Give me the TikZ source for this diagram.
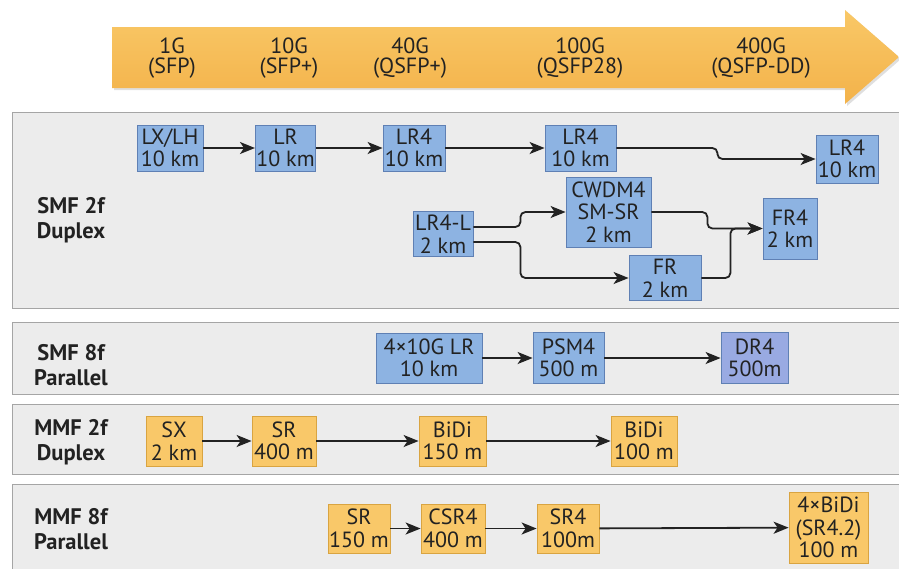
\documentclass[tikz,border=0pt]{standalone}
\usepackage{fontspec}
\setmainfont{PT Sans}
\usetikzlibrary{arrows.meta,calc,shadows}
\definecolor{boxblue}{HTML}{8DB3E2}
\definecolor{dr4fill}{HTML}{99AAE2}
\definecolor{boxblueline}{HTML}{5F80B4}
\definecolor{boxor}{HTML}{F9C869}
\definecolor{boxorline}{HTML}{D9A441}
\definecolor{panelgray}{HTML}{ECECEC}
\definecolor{panelline}{HTML}{A5A5A5}
\definecolor{arrtop}{HTML}{F9C867}
\definecolor{arrbot}{HTML}{F3B24A}
\definecolor{ink}{HTML}{222222}
\begin{document}
\begin{tikzpicture}[x=1pt,y=-1pt,
  box/.style={draw, line width=0.8pt, inner sep=1pt, align=center,
    font=\fontsize{22}{22.5}\selectfont, text=ink},
  bluebox/.style={box, fill=boxblue, draw=boxblueline},
  orbox/.style={box, fill=boxor, draw=boxorline},
  conn/.style={draw=ink, line width=1.8pt, -{Stealth[length=15pt,width=12pt,inset=4pt]}, rounded corners=5pt},
  panel/.style={fill=panelgray, draw=panelline, line width=0.8pt},
  plabel/.style={font=\bfseries\fontsize{22.5}{25}\selectfont, align=center, text=ink},
  hdr/.style={font=\fontsize{22}{20.5}\selectfont, align=center, text=ink}
]
\clip (0,0) rectangle (899,568);
\fill[white] (0,0) rectangle (899,568);

% header arrow
\path[top color=arrtop, bottom color=arrbot,
  drop shadow={opacity=0.25, shadow xshift=2pt, shadow yshift=-2pt}]
  (112,27) -- (845,27) -- (845,10) -- (899,57) -- (845,104) -- (845,88) -- (112,88) -- cycle;
\node[hdr] (h1) at (172,58) {1G\\(SFP)};
\node[hdr] (h2) at (289,58) {10G\\(SFP+)};
\node[hdr] (h3) at (410,58) {40G\\(QSFP+)};
\node[hdr] (h4) at (580,58) {100G\\(QSFP28)};
\node[hdr] (h5) at (761,58) {400G\\(QSFP-DD)};

% panels
\path[panel] (12,112) rectangle (905,308);
\path[panel] (12,322) rectangle (905,394);
\path[panel] (12,404) rectangle (905,474);
\path[panel] (12,484) rectangle (905,590);

\node[plabel] (p1) at (71,220) {SMF 2f\\Duplex};
\node[plabel] (p2) at (71,365) {SMF 8f\\Parallel};
\node[plabel] (p3) at (71,442) {MMF 2f\\Duplex};
\node[plabel] (p4) at (71,529) {MMF 8f\\Parallel};

% SMF 2f duplex
\node[bluebox, minimum width=66pt, minimum height=46pt] (lxlh) at (170,148) {LX/LH\\10 km};
\node[bluebox, minimum width=59pt, minimum height=46pt] (lr) at (285.5,148) {LR\\10 km};
\node[bluebox, minimum width=62pt, minimum height=46pt] (lr4a) at (414,148) {LR4\\10 km};
\node[bluebox, minimum width=71pt, minimum height=46pt] (lr4b) at (580.5,148) {LR4\\10 km};
\node[bluebox, minimum width=62pt, minimum height=48pt] (lr4c) at (847,159) {LR4\\10 km};
\node[bluebox, minimum width=60pt, minimum height=45pt] (lr4l) at (443,234) {LR4-L\\2 km};
\node[bluebox, minimum width=85pt, minimum height=70pt] (cwdm) at (608.5,212) {CWDM4\\SM-SR\\2 km};
\node[bluebox, minimum width=72pt, minimum height=45pt] (fr) at (665,278) {FR\\2 km};
\node[bluebox, minimum width=54pt, minimum height=61pt] (fr4) at (790,228.5) {FR4\\2 km};

\draw[conn] (lxlh) -- (lr);
\draw[conn] (lr) -- (lr4a);
\draw[conn] (lr4a) -- (lr4b);
\draw[conn] (lr4b.east) -- ++(101,0) |- (lr4c.west);
\draw[conn] ($(lr4l.east)+(0,-7)$) -- ++(47,0) |- (cwdm.west);
\draw[conn] ($(lr4l.east)+(0,8)$) -- ++(47,0) |- (fr.west);
\draw[conn] (cwdm.east) -- ++(56,0) |- (fr4.west);
\draw[conn] (fr.east) -- ++(29,0) |- (fr4.west);

% SMF 8f parallel
\node[bluebox, minimum width=106pt, minimum height=50pt] (g4lr) at (429,358) {4×10G LR\\10 km};
\node[bluebox, minimum width=71pt, minimum height=51pt] (psm4) at (568.5,358) {PSM4\\500 m};
\node[bluebox, fill=dr4fill, minimum width=67pt, minimum height=51pt] (dr4) at (754.5,358) {DR4\\500m};
\draw[conn] (g4lr) -- (psm4);
\draw[conn] (psm4) -- (dr4);

% MMF 2f duplex
\node[orbox, minimum width=56pt, minimum height=50pt] (sx) at (174,441) {SX\\2 km};
\node[orbox, minimum width=64pt, minimum height=50pt] (sr400) at (284,441) {SR\\400 m};
\node[orbox, minimum width=67pt, minimum height=50pt] (bidi150) at (452.5,441) {BiDi\\150 m};
\node[orbox, minimum width=66pt, minimum height=50pt] (bidi100) at (644,441) {BiDi\\100 m};
\draw[conn] (sx) -- (sr400);
\draw[conn] (sr400) -- (bidi150);
\draw[conn] (bidi150) -- (bidi100);

% MMF 8f parallel
\node[orbox, minimum width=62pt, minimum height=49pt] (sr150) at (359,528.5) {SR\\150 m};
\node[orbox, minimum width=64pt, minimum height=49pt] (csr4) at (453,528.5) {CSR4\\400 m};
\node[orbox, minimum width=62pt, minimum height=49pt] (sr4) at (568,528.5) {SR4\\100m};
\node[orbox, minimum width=79pt, minimum height=71pt] (bidi4) at (828.5,527.5) {4×BiDi\\(SR4.2)\\100 m};
\draw[conn] (sr150) -- (csr4);
\draw[conn] (csr4) -- (sr4);
\draw[conn] (sr4) -- (bidi4);
\end{tikzpicture}
\end{document}
